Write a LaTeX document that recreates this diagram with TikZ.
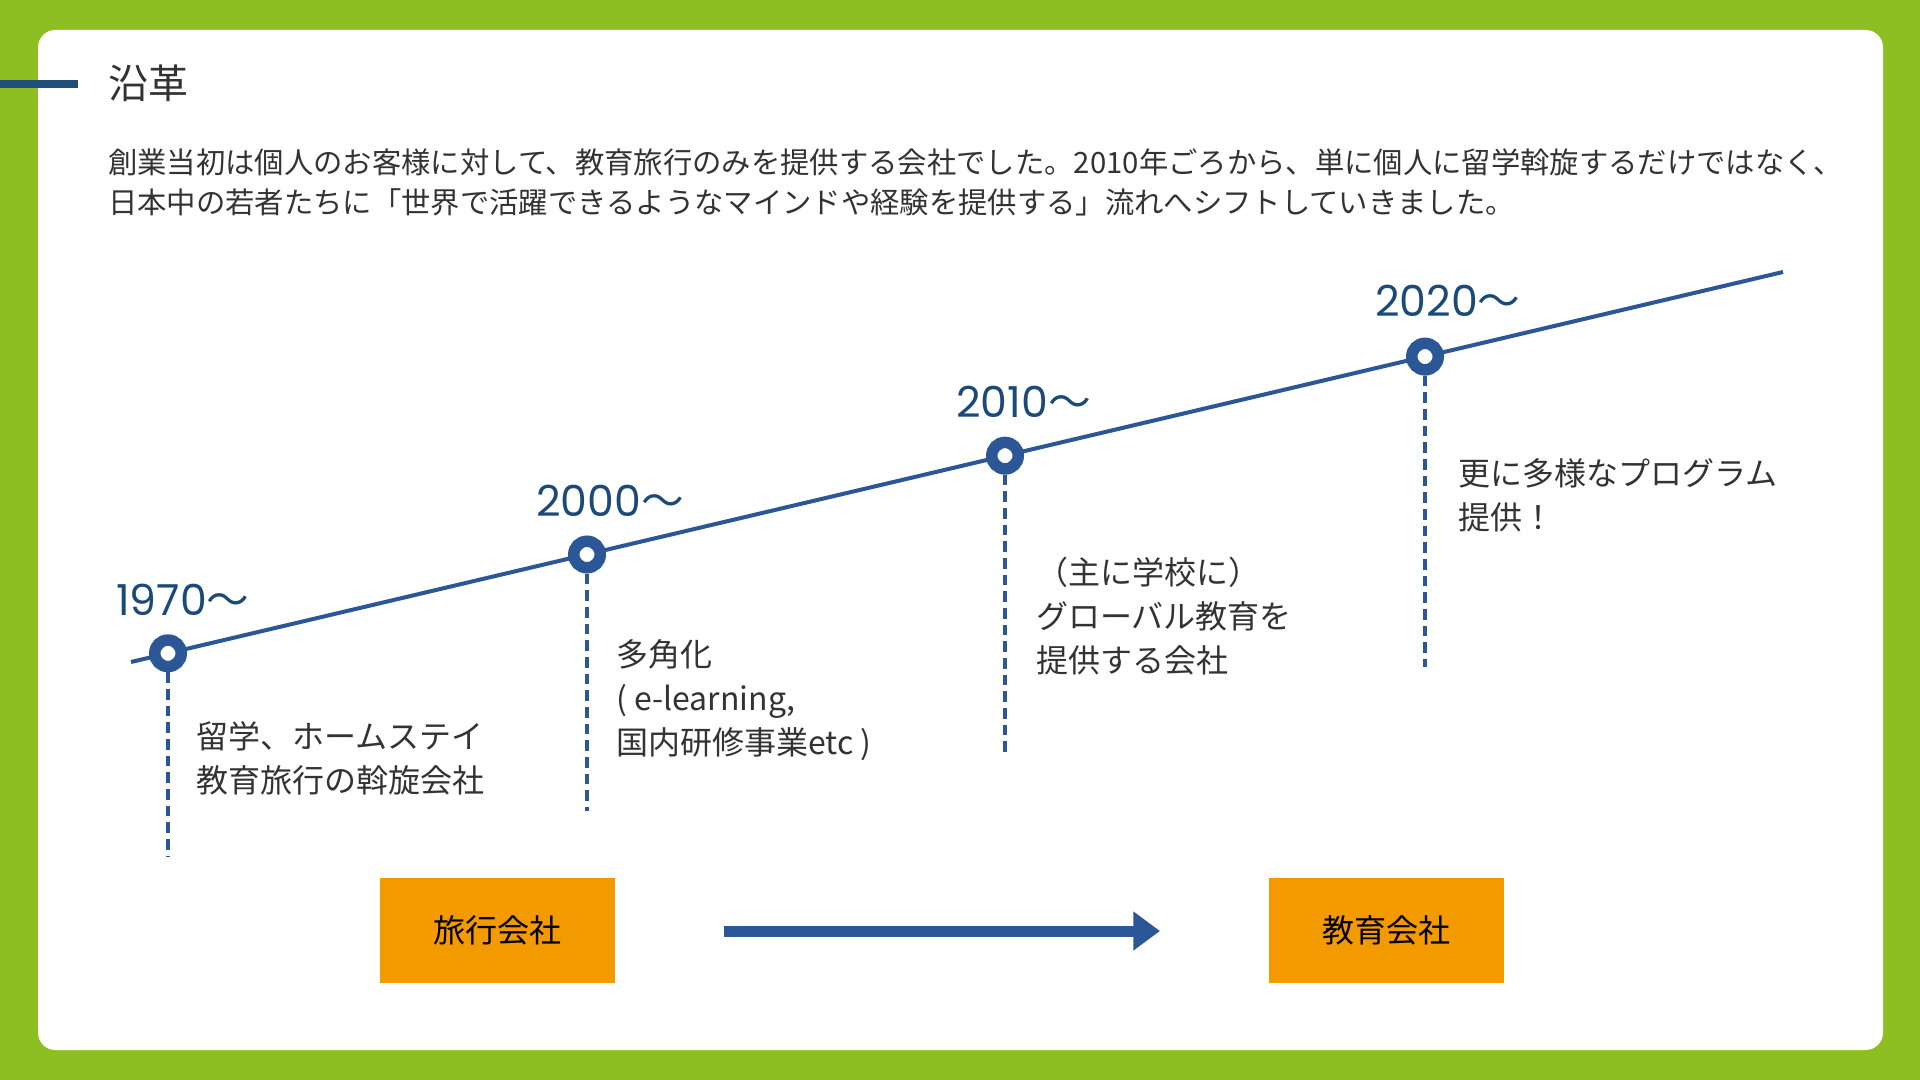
\documentclass[tikz,border=0pt]{standalone}
\usepackage{fontspec}
\setmainfont{Noto Sans CJK JP}
\newfontfamily\yearfont{Poppins}
\newfontfamily\jpfont{Noto Sans CJK JP}
\usetikzlibrary{arrows.meta}
\definecolor{bggreen}{HTML}{8EBF22}
\definecolor{lineblue}{HTML}{2B5797}
\definecolor{yearblue}{HTML}{1B4A78}
\definecolor{barblue}{HTML}{1F4E79}
\definecolor{boxorange}{HTML}{F39A00}
\definecolor{txt}{HTML}{333333}
\tikzset{
  tline/.style={draw=lineblue, line width=3pt},
  ring/.style={circle, draw=lineblue, fill=white, line width=8.6pt, minimum size=19.9pt, inner sep=0pt},
  vdashline/.style={draw=lineblue, line width=2.8pt, dash pattern=on 8pt off 4.5pt},
  yearlbl/.style={anchor=base west, inner sep=0pt, text=yearblue, font=\fontsize{32}{38}\selectfont},
  para/.style={anchor=base west, inner sep=0pt, text=txt, font=\fontsize{22}{30}\selectfont},
  desc/.style={anchor=base west, inner sep=0pt, text=txt, font=\fontsize{24}{33}\selectfont},
  orangebox/.style={fill=boxorange, minimum width=176.25pt, minimum height=78.75pt, inner sep=0pt, text=black, font=\fontsize{24}{30}\selectfont},
  bigarrow/.style={draw=lineblue, line width=8.25pt, -{Triangle[length=20pt, width=28pt]}}
}
\begin{document}
\begin{tikzpicture}[x=0.75pt, y=-0.75pt]
\fill[bggreen] (0,0) rectangle (1920,1080);
\useasboundingbox (0,0) rectangle (1920,1080);
\fill[white, rounded corners=13pt] (38,30) rectangle (1883,1050);
% title bar
\coordinate (bar1) at (0,84);
\coordinate (bar2) at (78,84);
\draw[barblue, line width=6pt] (bar1) -- (bar2);
\node[anchor=base west, inner sep=0pt, text=txt, font=\fontsize{30}{36}\selectfont] (title) at (108,99) {沿革};
% paragraph
\node[para] (p1) at (108,174) {創業当初は個人のお客様に対して、教育旅行のみを提供する会社でした。2010年ごろから、単に個人に留学斡旋するだけではなく、};
\node[para] (p2) at (108,214) {日本中の若者たちに「世界で活躍できるようなマインドや経験を提供する」流れへシフトしていきました。};
% timeline
\coordinate (ls) at (131,662);
\coordinate (le) at (1783,272);
\draw[tline] (ls) -- (le);
\node[ring] (c1) at (168,653.3) {};
\node[ring] (c2) at (587,554.5) {};
\node[ring] (c3) at (1005,455.7) {};
\node[ring] (c4) at (1425,356.6) {};
\coordinate (d1) at (168,857);
\coordinate (d2) at (587,811);
\coordinate (d3) at (1005,755);
\coordinate (d4) at (1425,667);
\draw[vdashline] (c1.south) -- (d1);
\draw[vdashline] (c2.south) -- (d2);
\draw[vdashline] (c3.south) -- (d3);
\draw[vdashline] (c4.south) -- (d4);
% years
\node[yearlbl] (y1) at (116,615) {\yearfont 1970\jpfont 〜};
\node[yearlbl] (y2) at (536,516) {\yearfont 2000\jpfont 〜};
\node[yearlbl] (y3) at (956,417) {\yearfont 2010\jpfont 〜};
\node[yearlbl] (y4) at (1375,317) {\yearfont 2020\jpfont 〜};
% descriptions
\node[desc] (t1a) at (196,748) {留学、ホームステイ};
\node[desc] (t1b) at (196,792) {教育旅行の斡旋会社};
\node[desc] (t2a) at (616,666) {多角化};
\node[desc] (t2b) at (616,710) {( e-learning,};
\node[desc] (t2c) at (616,754) {国内研修事業etc )};
\node[desc] (t3a) at (1036,584) {（主に学校に）};
\node[desc] (t3b) at (1036,628) {グローバル教育を};
\node[desc] (t3c) at (1036,672) {提供する会社};
\node[desc] (t4a) at (1458,485) {更に多様なプログラム};
\node[desc] (t4b) at (1458,529) {提供！};
% boxes and arrow
\node[orangebox] (b1) at (497.5,930.5) {旅行会社};
\node[orangebox] (b2) at (1386.5,930.5) {教育会社};
\coordinate (a1) at (724,931);
\coordinate (a2) at (1160,931);
\draw[bigarrow] (a1) -- (a2);
\end{tikzpicture}
\end{document}
